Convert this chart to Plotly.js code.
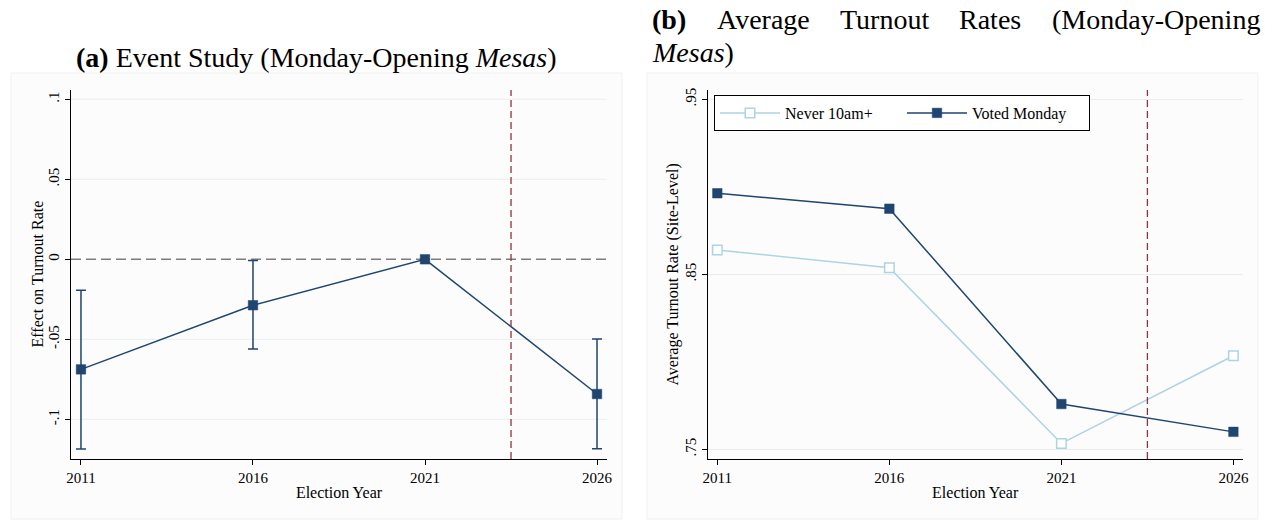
<!DOCTYPE html>
<html>
<head>
<meta charset="utf-8">
<script src="https://cdn.plot.ly/plotly-3.0.1.min.js"></script>
<style>html,body{margin:0;padding:0;background:#fff;}#chart{width:1270px;height:521px;}</style>
</head>
<body>
<div id="chart"></div>
<script>
// ---- Data ----
const years = [2011, 2016, 2021, 2026];
const yearTicks = ['2011', '2016', '2021', '2026'];

// Panel (a): event study
const effect = [-0.0688, -0.0287, 0, -0.0842];
const ciLow  = [-0.1185, -0.0561, 0, -0.1184];
const ciHigh = [-0.0193, -0.0008, 0, -0.0498];
const effTickVals = [-0.1, -0.05, 0, 0.05, 0.1];
const effTickText = ['-.1', '-.05', '0', '.05', '.1'];

// Panel (b): average turnout rates
const never10am = [0.8639, 0.8538, 0.7534, 0.8035];
const votedMonday = [0.8963, 0.8875, 0.7759, 0.7600];
const turnTickVals = [0.75, 0.85, 0.95];
const turnTickText = ['.75', '.85', '.95'];

const seriesNames = ['Never 10am+', 'Voted Monday'];
const policyYear = 2023.5;

// ---- Style ----
const W = 1270, H = 521;
const FAM = 'Liberation Serif';
const FONT = 'Liberation Serif, Times New Roman, serif';
const TSIZE = 28;
const NAVY = '#1f4570';
const LTBLUE = '#aed3e3';
const CRAN = '#8e3442';
const GRID = '#e8eef0';
const px = v => v / W;
const py = v => 1 - v / H;

const errUp = effect.map((v, i) => ciHigh[i] - v);
const errDn = effect.map((v, i) => v - ciLow[i]);

// justified first line of title (b)
const ctx = document.createElement('canvas').getContext('2d');
function tw(txt, bold) {
  ctx.font = (bold ? 'bold ' : '') + TSIZE + 'px "' + FAM + '"';
  return ctx.measureText(txt).width;
}
const bWords = [['(b)', true], ['Average', false], ['Turnout', false], ['Rates', false], ['(Monday-Opening', false]];
const lineL = 650, lineR = 1258;
const widths = bWords.map(w => tw(w[0], w[1]));
const gap = (lineR - lineL - widths.reduce((a, b) => a + b, 0)) / (bWords.length - 1);
const bAnn = [];
let cur = lineL;
bWords.forEach((w, i) => {
  bAnn.push({xref: 'paper', yref: 'paper', x: px(cur), y: py(20), xanchor: 'left', yanchor: 'middle',
    showarrow: false, font: {family: FONT, size: TSIZE, color: '#000'},
    text: w[1] ? '<b>' + w[0] + '</b>' : w[0]});
  cur += widths[i] + gap;
});

const traces = [
  {
    x: years, y: effect, xaxis: 'x', yaxis: 'y', type: 'scatter', mode: 'lines+markers',
    line: {color: NAVY, width: 1.5},
    marker: {symbol: 'square', size: 9.5, color: NAVY, line: {color: NAVY, width: 0.5}},
    error_y: {type: 'data', symmetric: false, array: errUp, arrayminus: errDn,
              color: NAVY, thickness: 1.5, width: 5},
    showlegend: false, hoverinfo: 'x+y'
  },
  {
    x: years, y: never10am, xaxis: 'x2', yaxis: 'y2', type: 'scatter', mode: 'lines+markers',
    name: seriesNames[0],
    line: {color: LTBLUE, width: 1.5},
    marker: {symbol: 'square', size: 9.5, color: '#ffffff', line: {color: LTBLUE, width: 1.5}}
  },
  {
    x: years, y: votedMonday, xaxis: 'x2', yaxis: 'y2', type: 'scatter', mode: 'lines+markers',
    name: seriesNames[1],
    line: {color: NAVY, width: 1.5},
    marker: {symbol: 'square', size: 9.5, color: NAVY, line: {color: NAVY, width: 0.5}}
  }
];

const xCommon = {
  tickvals: years, ticktext: yearTicks, showgrid: false, zeroline: false,
  showline: true, linecolor: '#000', linewidth: 1,
  ticks: 'outside', ticklen: 5, tickcolor: '#000', tickwidth: 1,
  tickfont: {family: FONT, size: 15, color: '#000'},
  range: [2010.71, 2026.29], fixedrange: true
};
const yCommon = {
  showgrid: true, gridcolor: GRID, gridwidth: 1, zeroline: false,
  showline: true, linecolor: '#000', linewidth: 1,
  ticks: 'outside', ticklen: 5, tickcolor: '#000', tickwidth: 1,
  tickangle: -90,
  tickfont: {family: FONT, size: 15, color: '#000'}, fixedrange: true
};
const titleFont = {family: FONT, size: 16, color: '#000'};

// panel (a) gridlines drawn as shapes (so the dashed zero line is not covered)
const gridShapes = effTickVals.filter(v => v !== 0).map(v => ({
  type: 'line', xref: 'x domain', yref: 'y', x0: 0, x1: 1, y0: v, y1: v,
  line: {color: GRID, width: 1}, layer: 'below'
}));

const layout = {
  width: W, height: H, autosize: false,
  margin: {l: 0, r: 0, t: 0, b: 0},
  paper_bgcolor: '#ffffff', plot_bgcolor: 'rgba(0,0,0,0)',
  font: {family: FONT, size: 15, color: '#000'},
  xaxis: Object.assign({}, xCommon, {
    domain: [px(71), px(607)], anchor: 'y',
    title: {text: 'Election Year', font: titleFont, standoff: 1}
  }),
  yaxis: Object.assign({}, yCommon, {
    domain: [py(459), py(90)], anchor: 'x', showgrid: false,
    range: [-0.1248, 0.1058],
    tickvals: effTickVals, ticktext: effTickText
  }),
  xaxis2: Object.assign({}, xCommon, {
    domain: [px(707.7), px(1242.7)], anchor: 'y2',
    range: [2010.72, 2026.27],
    title: {text: 'Election Year', font: titleFont, standoff: 1}
  }),
  yaxis2: Object.assign({}, yCommon, {
    domain: [py(459), py(90)], anchor: 'x2',
    range: [0.7445, 0.9553],
    tickvals: turnTickVals, ticktext: turnTickText
  }),
  showlegend: true,
  legend: {
    x: px(714), y: py(95), xanchor: 'left', yanchor: 'top', orientation: 'h',
    bgcolor: '#ffffff', bordercolor: '#000', borderwidth: 1,
    font: {family: FONT, size: 16, color: '#000'},
    entrywidth: 112, entrywidthmode: 'pixels', itemwidth: 60,
    tracegroupgap: 0
  },
  shapes: [
    // panel backgrounds
    {type: 'rect', xref: 'paper', yref: 'paper', x0: px(11), x1: px(622), y0: py(519), y1: py(73),
     fillcolor: '#fcfcfc', line: {color: '#f0f0f0', width: 1}, layer: 'below'},
    {type: 'rect', xref: 'paper', yref: 'paper', x0: px(647), x1: px(1258), y0: py(519), y1: py(73),
     fillcolor: '#fcfcfc', line: {color: '#f0f0f0', width: 1}, layer: 'below'}
  ].concat(gridShapes).concat([
    // zero reference line (panel a)
    {type: 'line', xref: 'x domain', yref: 'y', x0: 0, x1: 1, y0: 0, y1: 0,
     line: {color: '#7c7c7c', width: 1.4, dash: '10px,5px'}, layer: 'below'},
    // policy lines
    {type: 'line', xref: 'x', yref: 'y domain', x0: policyYear, x1: policyYear, y0: 0, y1: 1,
     line: {color: CRAN, width: 1.3, dash: '7px,4px'}},
    {type: 'line', xref: 'x2', yref: 'y2 domain', x0: policyYear, x1: policyYear, y0: 0, y1: 1,
     line: {color: CRAN, width: 1.3, dash: '7px,4px'}}
  ]),
  annotations: [
    {xref: 'paper', yref: 'paper', x: px(316), y: py(58), xanchor: 'center', yanchor: 'middle',
     showarrow: false, font: {family: FONT, size: TSIZE, color: '#000'},
     text: '<b>(a)</b> Event Study (Monday-Opening <i>Mesas</i>)'},
    {xref: 'paper', yref: 'paper', x: px(650), y: py(52), xanchor: 'left', yanchor: 'middle',
     showarrow: false, font: {family: FONT, size: TSIZE, color: '#000'}, text: '<i>Mesas</i>)'},
    {xref: 'paper', yref: 'paper', x: px(37), y: py(274.5), xanchor: 'center', yanchor: 'middle',
     textangle: -90, showarrow: false, font: titleFont, text: 'Effect on Turnout Rate'},
    {xref: 'paper', yref: 'paper', x: px(672), y: py(274.5), xanchor: 'center', yanchor: 'middle',
     textangle: -90, showarrow: false, font: titleFont, text: 'Average Turnout Rate (Site-Level)'}
  ].concat(bAnn)
};

Plotly.newPlot('chart', traces, layout, {staticPlot: true, displayModeBar: false});
</script>
</body>
</html>
